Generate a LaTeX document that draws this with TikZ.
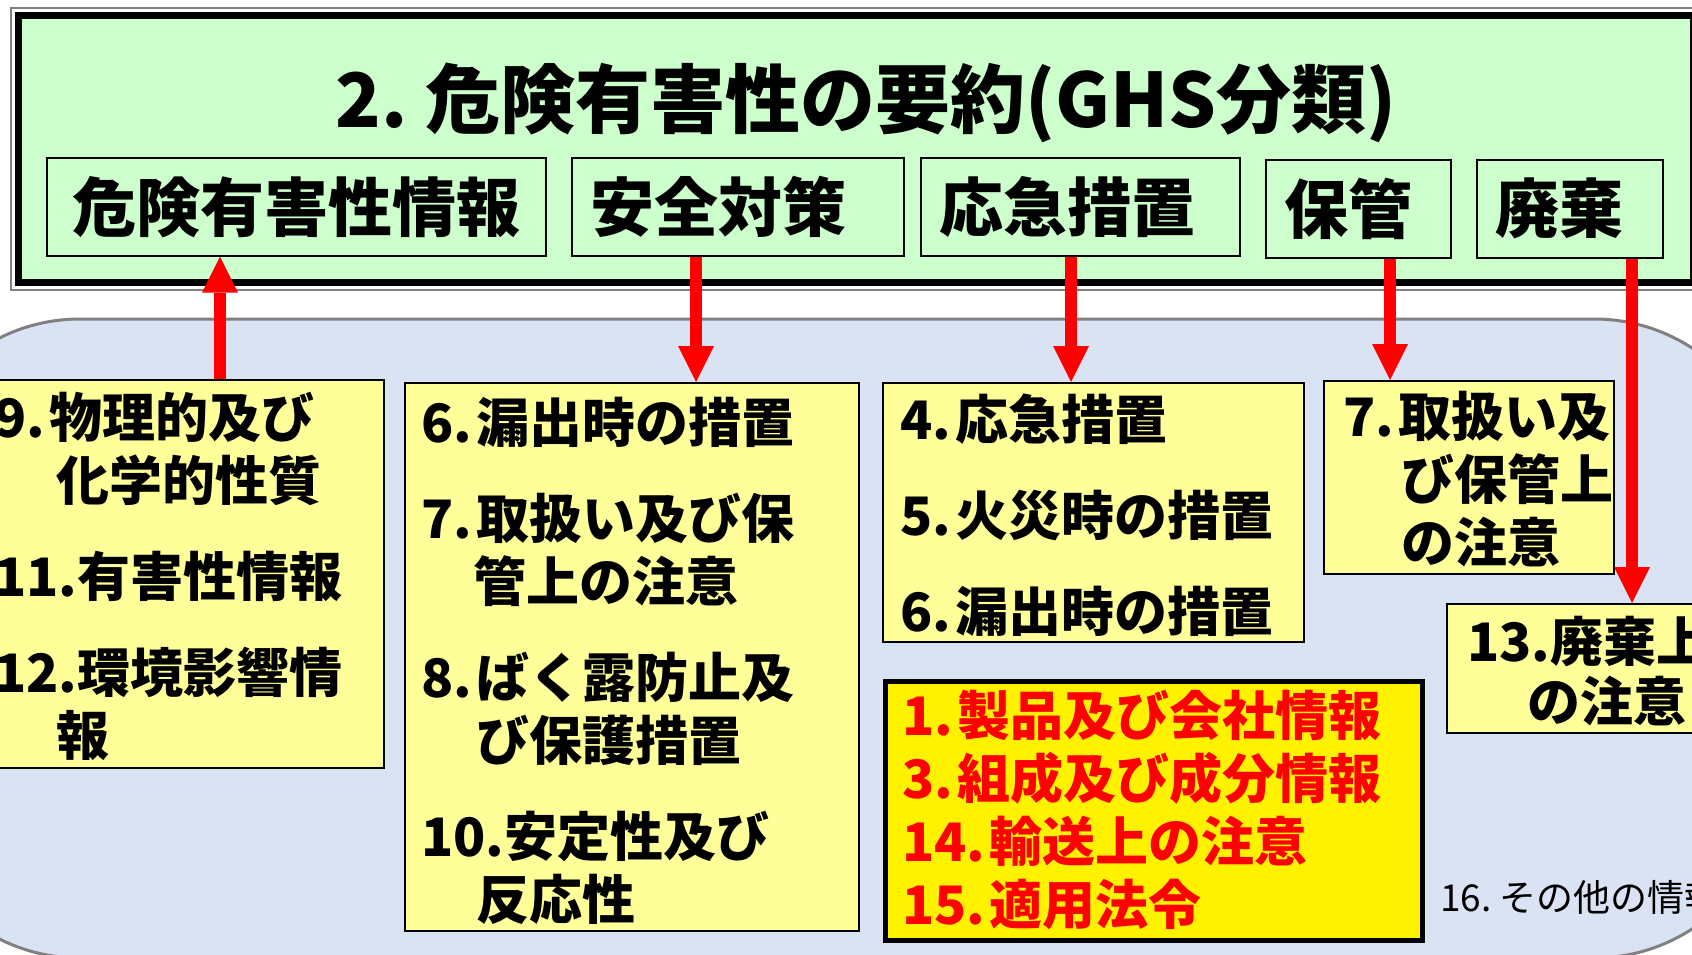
\documentclass[tikz,border=0pt]{standalone}
\usepackage{fontspec}
\newfontfamily\jp{Noto Sans CJK JP}
\usepackage{tikz}
\usetikzlibrary{arrows.meta}
\definecolor{gbox}{HTML}{CCFFCC}
\definecolor{bluearea}{HTML}{DAE3F3}
\definecolor{ylw}{HTML}{FFFF99}
\newcommand{\nsp}{\hspace{4pt}}
\begin{document}
\begin{tikzpicture}[x=1pt, y=-1pt,
    subbox/.style={draw, line width=1.5pt, anchor=north west, minimum height=98pt, inner xsep=19pt, inner ysep=0pt, align=left, font=\jp\bfseries\fontsize{64}{70}\selectfont},
    ybox/.style={draw, line width=2pt, fill=ylw, anchor=north west, inner sep=0pt},
    ytxt/.style={anchor=base west, inner sep=0pt, align=left, font=\jp\bfseries\fontsize{53}{63}\selectfont},
    redarr/.style={draw=red, line width=12pt, -{Triangle[length=36pt, width=36pt, line width=0pt]}}]
    \clip (0,0) rectangle (1692,954);
    \draw[line width=1.5pt, draw=gray] (11,8) rectangle (1700,290);
    \filldraw[line width=7pt, fill=gbox, draw=black] (18.5,15.5) rectangle (1693,282.5);
    \node[font=\jp\bfseries\fontsize{75}{80}\selectfont, anchor=base, inner sep=0pt] (ttl) at (866,127) {2.\ 危険有害性の要約(GHS分類)};
    \node[subbox, text width=447pt, inner xsep=26pt] (hz) at (46,157) {危険有害性情報};
    \node[subbox, text width=294pt] (anzen) at (571,157) {安全対策};
    \node[subbox, text width=281pt] (okyu) at (920,157) {応急措置};
    \node[subbox, text width=147pt] (hokan) at (1265,159) {保管};
    \node[subbox, text width=148pt] (haiki) at (1476,159) {廃棄};
    \filldraw[line width=3pt, fill=bluearea, draw=gray, rounded corners=180pt] (-100,319) rectangle (1774,958);
    \node[ybox, minimum width=403pt, minimum height=388pt] (boxA) at (-20,379) {};
    \node[ybox, minimum width=454pt, minimum height=548pt] (boxB) at (404,382) {};
    \node[ybox, minimum width=421pt, minimum height=259pt] (boxC) at (882,382) {};
    \node[ybox, minimum width=290pt, minimum height=193pt] (boxD) at (1323,380) {};
    \node[ybox, minimum width=294pt, minimum height=129pt] (boxE) at (1446,603) {};
    \node[ybox, line width=4.5pt, fill=yellow, minimum width=537pt, minimum height=259pt] (boxF) at (883,679) {};
    \node[ytxt] (txtA) at (-6,755) {9.\nsp 物理的及び\\ \hspace*{62pt}化学的性質\\[33pt] 11.有害性情報\\[33pt] 12.環境影響情\\ \hspace*{62pt}報};
    \node[ytxt] (txtB) at (421,919) {6.\nsp 漏出時の措置\\[33pt] 7.\nsp 取扱い及び保\\ \hspace*{52pt}管上の注意\\[33pt] 8.\nsp ばく露防止及\\ \hspace*{55pt}び保護措置\\[33pt] 10.安定性及び\\ \hspace*{55pt}反応性};
    \node[ytxt] (txtC) at (900,631) {4.\nsp 応急措置\\[33pt] 5.\nsp 火災時の措置\\[33pt] 6.\nsp 漏出時の措置};
    \node[ytxt] (txtD) at (1343,562) {7.\nsp 取扱い及\\ \hspace*{58pt}び保管上\\ \hspace*{58pt}の注意};
    \node[ytxt] (txtE) at (1467,721) {13.廃棄上\\[-3pt] \hspace*{60pt}の注意};
    \node[ytxt, text=red] (txtF) at (902,924) {1.\nsp 製品及び会社情報\\ 3.\nsp 組成及び成分情報\\ 14.\nsp 輸送上の注意\\ 15.\nsp 適用法令};
    \node[anchor=base west, inner sep=0pt, font=\jp\fontsize{37}{40}\selectfont] (other) at (1440,911) {16.\ その他の情報};
    \coordinate (a1) at (220,0);
    \coordinate (a2) at (696,0);
    \coordinate (a3) at (1071,0);
    \coordinate (a4) at (1390,0);
    \coordinate (a5) at (1632,0);
    \draw[redarr] (boxA.north -| a1) -- (hz.south -| a1);
    \draw[redarr] (anzen.south -| a2) -- (boxB.north -| a2);
    \draw[redarr] (okyu.south -| a3) -- (boxC.north -| a3);
    \draw[redarr] (hokan.south -| a4) -- (boxD.north -| a4);
    \draw[redarr] (haiki.south -| a5) -- (boxE.north -| a5);
\end{tikzpicture}
\end{document}
